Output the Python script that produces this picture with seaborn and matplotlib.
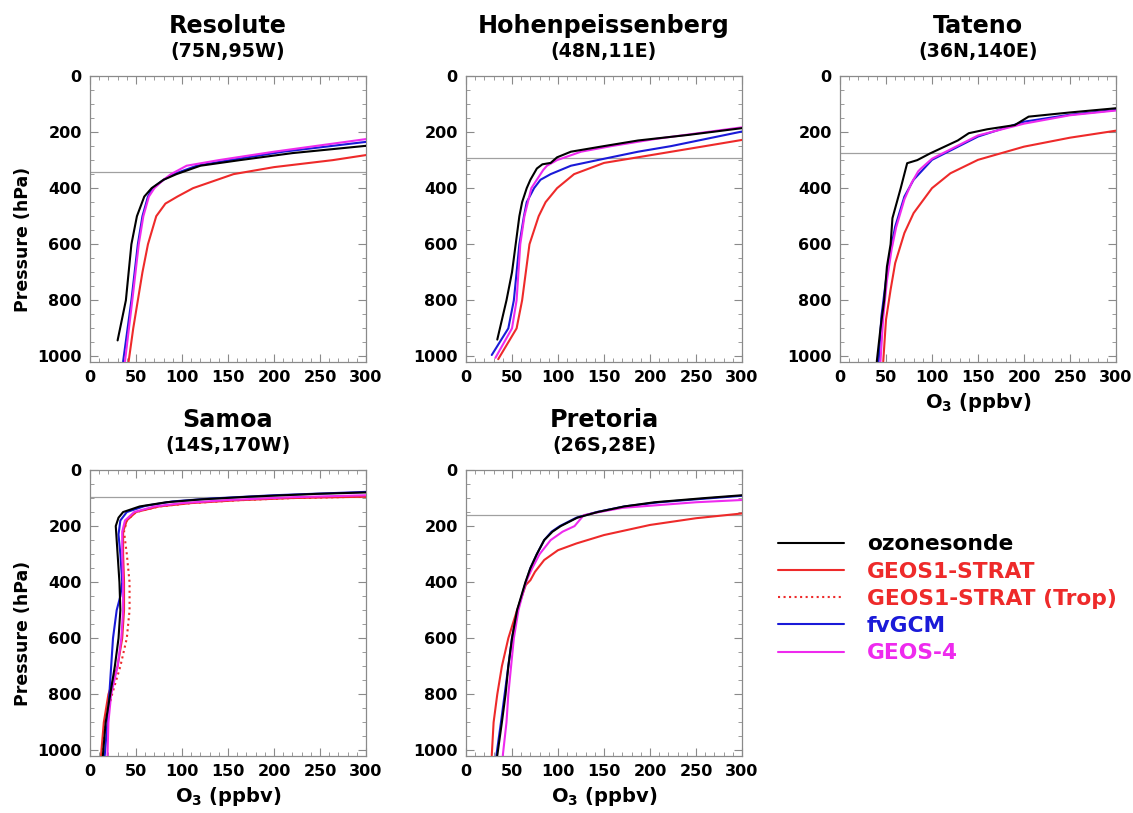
import matplotlib
matplotlib.use("Agg")
import matplotlib.pyplot as plt
from matplotlib.lines import Line2D
from matplotlib.ticker import MultipleLocator
import seaborn as sns
import pandas as pd

sns.set_theme(style="white")
plt.rcParams['font.family'] = ['DejaVu Sans']
plt.rcParams['font.weight'] = 'bold'
plt.rcParams['text.color'] = 'black'
plt.rcParams['axes.labelcolor'] = 'black'
plt.rcParams['xtick.labelcolor'] = 'black'
plt.rcParams['ytick.labelcolor'] = 'black'
plt.rcParams['mathtext.fontset'] = 'custom'
plt.rcParams['mathtext.rm'] = 'DejaVu Sans:bold'
plt.rcParams['mathtext.bf'] = 'DejaVu Sans:bold'

series_names = ["ozonesonde", "GEOS1-STRAT", "GEOS1-STRAT (Trop)", "fvGCM", "GEOS-4"]
series_colors = ["black", "#ee2a2a", "#ee2a2a", "#1a1ad8", "#ee2aee"]
series_styles = ["-", "-", ":", "-", "-"]

stations = ["Resolute", "Hohenpeissenberg", "Tateno", "Samoa", "Pretoria"]
locations = ["(75N,95W)", "(48N,11E)", "(36N,140E)", "(14S,170W)", "(26S,28E)"]
tropopause = [342, 293, 273, 95, 161]

# ---- Resolute ----
res_sonde_o3 = [30, 39, 45, 51, 59, 67, 80, 94, 120, 163, 220, 300]
res_sonde_p = [943, 800, 600, 500, 430, 400, 370, 350, 320, 300, 275, 249]
res_geos1_o3 = [42, 47, 52, 57, 63, 72, 82, 95, 112, 156, 200, 264, 300]
res_geos1_p = [1018, 900, 800, 700, 600, 500, 455, 430, 400, 350, 325, 300, 282]
res_fv_o3 = [36, 45, 52, 57, 63, 68, 80, 91, 116, 152, 210, 300]
res_fv_p = [1018, 800, 600, 500, 430, 400, 370, 350, 320, 300, 270, 235]
res_g4_o3 = [38, 46, 53, 58, 64, 70, 80, 88, 105, 140, 200, 300]
res_g4_p = [1018, 800, 600, 500, 430, 400, 370, 350, 320, 300, 270, 225]

# ---- Hohenpeissenberg ----
hoh_sonde_o3 = [34, 44, 50, 54, 58, 61, 66, 70, 77, 83, 92, 99, 114, 150, 187, 242, 300]
hoh_sonde_p = [940, 800, 700, 600, 500, 450, 400, 370, 330, 315, 310, 290, 270, 250, 230, 210, 186]
hoh_geos1_o3 = [35, 55, 61, 65, 69, 79, 86.5, 99, 117.5, 150, 205, 260, 300]
hoh_geos1_p = [1010, 900, 800, 700, 600, 500, 450, 400, 350, 310, 280, 250, 228]
hoh_fv_o3 = [28, 46, 52, 55, 58, 63, 66, 74, 81, 92, 114, 143, 187, 223, 300]
hoh_fv_p = [995, 900, 800, 700, 600, 500, 450, 400, 370, 350, 320, 300, 270, 250, 198]
hoh_g4_o3 = [32, 50, 55, 59, 63.5, 71, 81, 84, 88, 99, 125, 158, 205, 250, 300]
hoh_g4_p = [1005, 900, 800, 600, 500, 400, 350, 335, 320, 300, 270, 250, 225, 205, 183]

# ---- Tateno ----
tat_sonde_o3 = [40, 44, 48, 51, 55, 57, 66, 73, 84, 98, 113, 128, 140, 160, 190, 205, 250, 300]
tat_sonde_p = [1018, 900, 800, 680, 600, 507, 400, 311, 300, 276, 253, 230, 204, 190, 175, 145, 130, 115]
tat_geos1_o3 = [47, 50, 55, 60, 70, 80, 100, 120, 150, 200, 250, 300]
tat_geos1_p = [1018, 869, 762, 667, 560, 489, 400, 347, 299, 252, 220, 195]
tat_fv_o3 = [42, 45, 50, 55, 60, 70, 80, 100, 150, 200, 250, 300]
tat_fv_p = [1018, 857, 727, 620, 537, 430, 370, 299, 216, 163, 138, 121]
tat_g4_o3 = [44, 47, 51, 56, 61, 70, 78, 85, 88, 100, 150, 200, 250, 300]
tat_g4_p = [1018, 860, 730, 620, 540, 440, 380, 340, 330, 295, 212, 170, 140, 123]

# ---- Samoa ----
sam_sonde_o3 = [14, 17, 22, 27, 31, 33, 32, 30, 28, 31, 36, 54, 83, 120, 174, 247, 300]
sam_sonde_p = [1018, 900, 800, 700, 600, 500, 400, 300, 200, 170, 150, 130, 115, 105, 95, 85, 80]
sam_geos1_o3 = [12, 15, 20, 30, 35, 37, 37, 36, 36, 40, 50, 75, 110, 160, 220, 300]
sam_geos1_p = [1018, 900, 800, 700, 600, 500, 400, 300, 220, 180, 150, 130, 118, 108, 100, 95]
sam_trop_o3 = [13, 17, 24, 33, 40, 43, 43, 40, 37, 40, 50, 75, 110, 160, 220, 300]
sam_trop_p = [1018, 900, 800, 700, 600, 500, 400, 300, 220, 180, 150, 130, 118, 108, 100, 95]
sam_fv_o3 = [16, 19, 21, 23, 25, 29, 33, 35, 33, 31, 33, 40, 60, 90, 130, 200, 300]
sam_fv_p = [1018, 900, 800, 700, 600, 500, 450, 400, 300, 230, 180, 150, 128, 112, 102, 90, 78]
sam_g4_o3 = [19, 20, 23, 30, 34, 36, 36, 35, 35, 38, 48, 70, 100, 150, 220, 300]
sam_g4_p = [1018, 900, 800, 700, 600, 500, 400, 300, 220, 180, 150, 130, 118, 107, 97, 90]

# ---- Pretoria ----
pre_sonde_o3 = [34, 39, 43, 46, 50, 55.5, 64.6, 70, 77, 85, 94, 103, 121, 143, 172, 205, 260, 300]
pre_sonde_p = [1018, 900, 800, 700, 600, 500, 400, 350, 300, 250, 220, 200, 170, 150, 130, 115, 100, 90]
pre_geos1_o3 = [28, 30, 34, 39, 46, 55.5, 65, 70, 75, 85, 100, 120, 150, 200, 250, 300]
pre_geos1_p = [1018, 900, 800, 700, 600, 500, 410, 393, 363, 321, 286, 262, 232, 196, 172, 155]
pre_fv_o3 = [33, 38, 42, 46, 50, 56, 65, 70, 77, 85, 93, 102, 120, 142, 172, 210, 260, 300]
pre_fv_p = [1018, 900, 800, 700, 600, 500, 400, 350, 300, 250, 220, 200, 170, 150, 130, 115, 102, 92]
pre_g4_o3 = [40, 44, 46, 49, 52, 57, 65, 72, 80, 92, 105, 118, 128, 145, 170, 210, 250, 300]
pre_g4_p = [1018, 900, 800, 700, 600, 500, 400, 350, 300, 250, 220, 200, 161, 150, 135, 125, 115, 107]

station_data = [
    [(res_sonde_o3, res_sonde_p), (res_geos1_o3, res_geos1_p), None, (res_fv_o3, res_fv_p), (res_g4_o3, res_g4_p)],
    [(hoh_sonde_o3, hoh_sonde_p), (hoh_geos1_o3, hoh_geos1_p), None, (hoh_fv_o3, hoh_fv_p), (hoh_g4_o3, hoh_g4_p)],
    [(tat_sonde_o3, tat_sonde_p), (tat_geos1_o3, tat_geos1_p), None, (tat_fv_o3, tat_fv_p), (tat_g4_o3, tat_g4_p)],
    [(sam_sonde_o3, sam_sonde_p), (sam_geos1_o3, sam_geos1_p), (sam_trop_o3, sam_trop_p), (sam_fv_o3, sam_fv_p), (sam_g4_o3, sam_g4_p)],
    [(pre_sonde_o3, pre_sonde_p), (pre_geos1_o3, pre_geos1_p), None, (pre_fv_o3, pre_fv_p), (pre_g4_o3, pre_g4_p)],
]

W, H = 1133, 813
fig = plt.figure(figsize=(W / 100, H / 100), dpi=100)
ax_w, ax_h = 276 / W, 286 / H
lefts = [90 / W, 466 / W, 840 / W, 90 / W, 466 / W]
bottoms = [1 - 362 / H, 1 - 362 / H, 1 - 362 / H, 1 - 756 / H, 1 - 756 / H]
draw_order = [1, 2, 3, 4, 0]
xlabel_on = [False, False, True, True, True]
ylabel_on = [True, False, False, True, False]

spine_col = "#8a8a8a"
for i, st in enumerate(stations):
    ax = fig.add_axes([lefts[i], bottoms[i], ax_w, ax_h])
    ax.axhline(tropopause[i], color="#a0a0a0", lw=0.9, zorder=1)
    for k in draw_order:
        d = station_data[i][k]
        if d is None:
            continue
        df = pd.DataFrame({"O3": d[0], "P": d[1]})
        sns.lineplot(data=df, x="O3", y="P", ax=ax, color=series_colors[k],
                     linestyle=series_styles[k], lw=1.5, sort=False,
                     estimator=None, zorder=3)
    ax.set_xlim(0, 300)
    ax.set_ylim(1020, 0)
    ax.xaxis.set_major_locator(MultipleLocator(50))
    ax.xaxis.set_minor_locator(MultipleLocator(10))
    ax.yaxis.set_major_locator(MultipleLocator(200))
    ax.yaxis.set_minor_locator(MultipleLocator(50))
    ax.tick_params(which="both", direction="in", top=True, right=True,
                   bottom=True, left=True, color=spine_col)
    ax.tick_params(which="major", length=6, width=0.8, labelsize=11.5, pad=6)
    ax.tick_params(which="minor", length=3, width=0.6)
    for lab in ax.get_xticklabels() + ax.get_yticklabels():
        lab.set_fontweight("bold")
    for s in ax.spines.values():
        s.set_color(spine_col)
        s.set_linewidth(0.9)
    if xlabel_on[i]:
        ax.set_xlabel(r"O$_{3}$ (ppbv)", fontsize=14, fontweight="bold", labelpad=4)
    else:
        ax.set_xlabel("")
    if ylabel_on[i]:
        ax.set_ylabel("Pressure (hPa)", fontsize=12.5, fontweight="bold")
        ax.yaxis.set_label_coords(-0.21, 0.43)
    else:
        ax.set_ylabel("")
    ax.text(0.5, 1.150, st, transform=ax.transAxes, ha="center", va="baseline",
            fontsize=17.2, fontweight="bold")
    ax.text(0.5, 1.068, locations[i], transform=ax.transAxes, ha="center",
            va="baseline", fontsize=13.7, fontweight="bold")

handles = [Line2D([0], [0], color=series_colors[k], linestyle=series_styles[k], lw=1.5)
           for k in range(5)]
leg = fig.legend(handles, series_names, loc="upper left",
                 bbox_to_anchor=(774 / W, 1 - 530 / H), frameon=False,
                 prop={"weight": "bold", "size": 15.7}, handlelength=3.0,
                 handletextpad=1.05, labelspacing=0.33, labelcolor="linecolor",
                 borderaxespad=0, borderpad=0.2)

fig.savefig("out.png", dpi=100)
